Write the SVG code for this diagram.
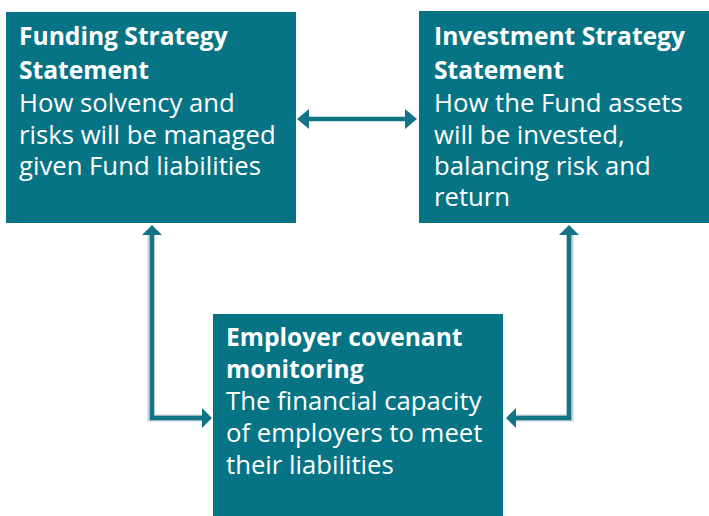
<svg xmlns="http://www.w3.org/2000/svg" width="709" height="516" viewBox="0 0 709 516">
<defs>
<style>
.box{fill:#077485}
.t{font-family:"Open Sans","Noto Sans",sans-serif;font-size:25.7px;fill:#ffffff}
.b{font-weight:bold;font-size:24.6px}
.c{fill:none;stroke:#137486;stroke-width:4.5}
.sh{fill:none;stroke:#c5d2da;stroke-width:7}
.ah{fill:#137486}
</style>
</defs>
<rect width="709" height="516" fill="#ffffff"/>
<g id="connectors">
<path class="sh" d="M151 232 V418 H204"/>
<path class="sh" d="M570 232 V418 H514"/>
<path class="c" d="M303 119 H411"/>
<polygon class="ah" points="297,119 309,109 309,129"/>
<polygon class="ah" points="417,119 405,109 405,129"/>
<path class="c" d="M152 232 V418 H204"/>
<polygon class="ah" points="152,225 142,235 162,235"/>
<polygon class="ah" points="212,418 202,408 202,428"/>
<path class="c" d="M569 232 V418 H514"/>
<polygon class="ah" points="569,225 559,235 579,235"/>
<polygon class="ah" points="506,418 516,408 516,428"/>
</g>
<g id="funding">
<rect class="box" x="6" y="12" width="290" height="211"/>
<text class="t b" x="19" y="45">Funding Strategy</text>
<text class="t b" x="19" y="79">Statement</text>
<text class="t" x="19" y="112">How solvency and</text>
<text class="t" x="19" y="144">risks will be managed</text>
<text class="t" x="19" y="175">given Fund liabilities</text>
</g>
<g id="investment">
<rect class="box" x="419" y="11" width="290" height="212"/>
<text class="t b" x="434" y="45">Investment Strategy</text>
<text class="t b" x="434" y="79">Statement</text>
<text class="t" x="434" y="112">How the Fund assets</text>
<text class="t" x="434" y="144">will be invested,</text>
<text class="t" x="434" y="175">balancing risk and</text>
<text class="t" x="434" y="206">return</text>
</g>
<g id="employer">
<rect class="box" x="213" y="314" width="290" height="202"/>
<text class="t b" x="226" y="346">Employer covenant</text>
<text class="t b" x="226" y="378">monitoring</text>
<text class="t" x="226" y="410">The financial capacity</text>
<text class="t" x="226" y="442">of employers to meet</text>
<text class="t" x="226" y="474">their liabilities</text>
</g>
</svg>
